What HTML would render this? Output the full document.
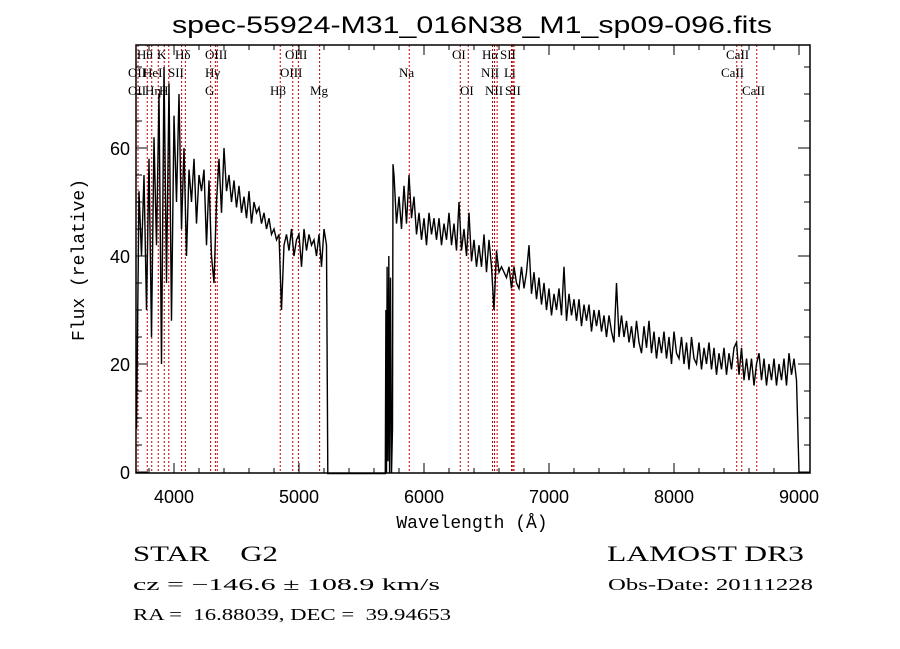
<!DOCTYPE html>
<html><head><meta charset="utf-8"><style>
html,body{margin:0;padding:0;background:#fff;}
svg{display:block;}
text{white-space:pre;}
.t{font-family:"Liberation Serif",serif;fill:#000;}
.m{font-family:"Liberation Mono",monospace;fill:#000;}
.s{font-family:"Liberation Sans",sans-serif;fill:#000;}
.ll{font-family:"Liberation Serif",serif;font-size:13px;fill:#000;}
</style></head><body>
<svg id="chart" width="900" height="649" viewBox="0 0 900 649" xmlns="http://www.w3.org/2000/svg" xml:space="preserve">
<rect width="900" height="649" fill="#fff"/>
<text class="s" x="172" y="33" font-size="24" textLength="600" lengthAdjust="spacingAndGlyphs">spec-55924-M31_016N38_M1_sp09-096.fits</text>
<g id="lines"></g>
<g id="spec"></g>
<g id="axes"></g>
<text class="m" font-size="18" transform="translate(84,260) rotate(-90)" text-anchor="middle">Flux (relative)</text>
<text class="m" font-size="18" x="472" y="528" text-anchor="middle">Wavelength (Å)</text>
<text class="t" font-size="22" x="133" y="561" textLength="145" lengthAdjust="spacingAndGlyphs">STAR    G2</text>
<text class="t" font-size="22" x="607" y="561" textLength="197" lengthAdjust="spacingAndGlyphs">LAMOST DR3</text>
<text class="t" font-size="17" x="133" y="590" textLength="307" lengthAdjust="spacingAndGlyphs">cz = −146.6 ± 108.9 km/s</text>
<text class="t" font-size="17" x="608" y="590" textLength="205" lengthAdjust="spacingAndGlyphs">Obs-Date: 20111228</text>
<text class="t" font-size="17" x="133" y="620" textLength="318" lengthAdjust="spacingAndGlyphs">RA =  16.88039, DEC =  39.94653</text>
</svg>
<script>
const xTicks=[4000,5000,6000,7000,8000,9000];
const yTicks=[0,20,40,60];
const lineWaves=[3712,3786,3822,3874,3922,3958,4061,4091,4293,4331,4346,4850,4950,4995,5165,5882,6290,6354,6548,6564,6585,6700,6710,6720,8502,8542,8662];
const lineLabels=[["Hθ",137,59],["K",157,59],["Hδ",175,59],["OIII",205,59],["OIII",285,59],["OI",452,59],["Hα",482,59],["SII",500,59],["CaII",726,59],
["OII",128,77],["HeI",143,77],["SII",168,77],["Hγ",205,77],["OIII",280,77],["Na",399,77],["NII",481,77],["Li",504,77],["CaII",721,77],
["OII",128,95],["Hη",145,95],["H",159,95],["G",205,95],["Hβ",270,95],["Mg",310,95],["OI",460,95],["NII",485,95],["SII",505,95],["CaII",742,95]];
const blueFlux=[8,52,40,55,30,58,25,62,42,70,20,75,35,72,28,66,50,70,45,60,40,56,50,58,46,55,52,56,42,54,40,35,50,58,48,60,52,55,50,54,49,53,48,51,47,52,46,50,48,49,46,48,45,47,44,45,43,44,30,42,44,41,45,40,43,44,38,45,41,44,42,43,40,44,38,45,42];
const midWave=[5230,5235,5690,5695,5700,5705,5712,5718,5725,5732,5740,5748,5752];
const midFlux=[-0.3,-0.3,-0.3,30,-0.3,38,2,40,-0.3,36,-0.3,8,57];
const redFlux=[55,46,51,45,53,46,55,47,51,44,48,43,47,42,48,44,47,43,47,42,46,43,48,42,46,41,50,41,45,40,48,39,43,38,42,38,44,37,43,38,30,41,37,38,37,36,38,34,38,35,34,38,34,37,42,33,37,32,36,31,35,30,34,29,33,30,34,29,38,28,33,29,32,28,32,27,31,28,31,26,30,27,30,26,29,25,29,26,24,35,25,29,25,28,24,27,23,28,24,22,27,23,28,22,26,21,25,22,26,21,25,20,26,22,21,25,20,24,19,25,21,20,24,19,23,20,24,19,23,18,22,19,23,18,22,19,23,24,18,23,17,21,17,21,16,20,22,17,21,16,20,17,21,16,20,17,21,16,22,18,21,17,0];
const xmin=3696,xmax=9088,ymin=0,ymax=79.1;
const L=136,R=810,T=45,B=473;
const yZero=472;
function xs(w){return L+(w-xmin)/(xmax-xmin)*(R-L);}
function ys(f){return yZero-(f-ymin)*5.4;}
const NS="http://www.w3.org/2000/svg";
function mk(t,a,p){const e=document.createElementNS(NS,t);for(const k in a)e.setAttribute(k,a[k]);p.appendChild(e);return e;}
const gl=document.getElementById('lines');
lineWaves.forEach(w=>{const e=mk('line',{x1:xs(w),x2:xs(w),y1:T,y2:B,stroke:'#c00000','stroke-width':1,'stroke-dasharray':'2,2'},gl);

});
lineLabels.forEach(l=>{const e=mk('text',{x:l[1],y:l[2],class:'ll'},gl);e.textContent=l[0];

});
const pts=[];
blueFlux.forEach((f,i)=>pts.push([3700+20*i,f]));
midWave.forEach((w,i)=>pts.push([w,midFlux[i]]));
redFlux.forEach((f,i)=>pts.push([5760+20*i,f]));
let d='';
pts.forEach((p,i)=>{const x=xs(p[0]),y=Math.min(ys(p[1]),473.5);d+=(i?'L':'M')+x.toFixed(1)+','+y.toFixed(1);});
const sp=mk('path',{d:d,fill:'none',stroke:'#000','stroke-width':1.4},document.getElementById('spec'));


const ga=document.getElementById('axes');
const fr=mk('rect',{x:L,y:T,width:R-L,height:B-T,fill:'none',stroke:'#000','stroke-width':1.5},ga);


for(let w=3800;w<=9000;w+=200){const major=xTicks.includes(w);const h=major?10:5;const x=xs(w);
mk('line',{x1:x,x2:x,y1:B,y2:B-h,stroke:'#000'},ga);mk('line',{x1:x,x2:x,y1:T,y2:T+h,stroke:'#000'},ga);}
xTicks.forEach(w=>{const e=mk('text',{x:xs(w),y:B+30,class:'s','font-size':18,'text-anchor':'middle'},ga);e.textContent=w;

});
for(let v=0;v<=75;v+=5){const major=yTicks.includes(v);const h=major?12:6;const y=ys(v);
mk('line',{x1:L,x2:L+h,y1:y,y2:y,stroke:'#000'},ga);mk('line',{x1:R,x2:R-h,y1:y,y2:y,stroke:'#000'},ga);}
yTicks.forEach(v=>{const e=mk('text',{x:L-6,y:ys(v)+7,class:'s','font-size':18,'text-anchor':'end'},ga);e.textContent=v;

});
</script>
</body></html>
